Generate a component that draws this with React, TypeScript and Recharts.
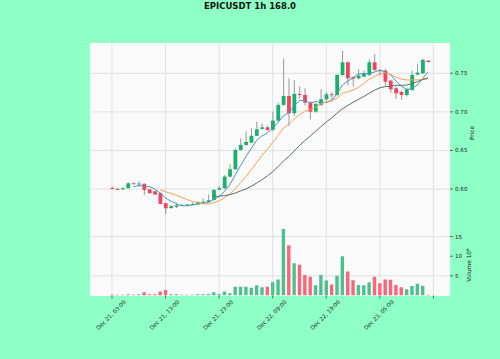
import { ComposedChart, Bar, Line, XAxis, YAxis, CartesianGrid, Cell } from "recharts";

// hourly candles, Dec 21 03:00 -> Dec 23 14:00
const opens = [
  0.6015, 0.6003, 0.5998, 0.6012, 0.6075, 0.6066, 0.6068, 0.5995, 0.5972, 0.5946,
  0.5817, 0.5755, 0.577, 0.5785, 0.579, 0.5795, 0.5808, 0.582, 0.5835, 0.5859,
  0.5992, 0.6011, 0.6161, 0.6257, 0.6507, 0.6572, 0.6601, 0.669, 0.678, 0.68,
  0.6768, 0.6887, 0.709, 0.7206, 0.6982, 0.7232, 0.7219, 0.712, 0.7003, 0.709,
  0.7163, 0.7228, 0.7219, 0.7478, 0.7642, 0.745, 0.7435, 0.7456, 0.7478, 0.7642,
  0.7543, 0.7534, 0.7404, 0.7306, 0.7258, 0.7219, 0.7284, 0.7482, 0.75, 0.7663,
];
const highs = [
  0.6035, 0.6015, 0.602, 0.609, 0.6085, 0.61, 0.6075, 0.6005, 0.598, 0.5955,
  0.582, 0.579, 0.5815, 0.581, 0.581, 0.5825, 0.5845, 0.588, 0.593, 0.6,
  0.604, 0.618, 0.632, 0.6525, 0.6658, 0.675, 0.6788, 0.6873, 0.685, 0.682,
  0.7003, 0.712, 0.7694, 0.7435, 0.7413, 0.733, 0.7305, 0.7135, 0.712, 0.7293,
  0.7255, 0.7255, 0.749, 0.7793, 0.7655, 0.746, 0.7555, 0.7535, 0.768, 0.775,
  0.7555, 0.7555, 0.7415, 0.733, 0.7275, 0.731, 0.7535, 0.7623, 0.769, 0.7672,
];
const lows = [
  0.5995, 0.5985, 0.599, 0.6005, 0.606, 0.6035, 0.5924, 0.594, 0.5925, 0.58,
  0.5674, 0.5745, 0.5755, 0.578, 0.5785, 0.579, 0.58, 0.5815, 0.583, 0.5855,
  0.5985, 0.6, 0.6155, 0.625, 0.65, 0.656, 0.6595, 0.6685, 0.677, 0.675,
  0.675, 0.687, 0.7075, 0.6818, 0.6945, 0.717, 0.708, 0.6905, 0.699, 0.7075,
  0.7145, 0.7135, 0.7205, 0.7465, 0.734, 0.7327, 0.742, 0.745, 0.7465, 0.753,
  0.7475, 0.7335, 0.7245, 0.7168, 0.716, 0.72, 0.727, 0.7475, 0.749, 0.764,
];
const closes = [
  0.6005, 0.5995, 0.6012, 0.6075, 0.6068, 0.6072, 0.599, 0.5948, 0.593, 0.5808,
  0.5752, 0.578, 0.579, 0.5795, 0.58, 0.5808, 0.5833, 0.5835, 0.5855, 0.5989,
  0.6011, 0.6161, 0.6257, 0.6507, 0.6572, 0.661, 0.669, 0.6775, 0.68, 0.6766,
  0.6887, 0.709, 0.7206, 0.6982, 0.7232, 0.7218, 0.712, 0.7003, 0.7103, 0.7163,
  0.7228, 0.7215, 0.7478, 0.7642, 0.7435, 0.743, 0.747, 0.75, 0.7642, 0.7543,
  0.7535, 0.7391, 0.7293, 0.7241, 0.7219, 0.7293, 0.7478, 0.7508, 0.7672, 0.7646,
];
// volume in millions
const volumes = [
  0.2, 0.2, 0.2, 0.3, 0.2, 0.3, 0.8, 0.3, 0.3, 1.0,
  1.4, 0.3, 0.3, 0.2, 0.2, 0.2, 0.3, 0.3, 0.4, 0.8,
  0.4, 1.0, 0.6, 2.2, 2.2, 2.2, 2.0, 2.6, 2.1, 2.2,
  3.4, 4.1, 16.9, 12.8, 8.2, 7.8, 5.2, 4.8, 2.6, 5.2,
  3.8, 2.8, 5.0, 10.0, 6.1, 3.9, 2.7, 2.6, 3.4, 4.8,
  3.1, 4.1, 4.0, 2.7, 2.1, 1.6, 2.4, 3.0, 2.5, 0.2,
];

const tickIdx = [0, 10, 20, 30, 40, 50, 60];
const tickLabels = [
  "Dec 21, 03:00",
  "Dec 21, 13:00",
  "Dec 21, 23:00",
  "Dec 22, 09:00",
  "Dec 22, 19:00",
  "Dec 23, 05:00",
  "",
];
const priceTicks = [0.6, 0.65, 0.7, 0.75];
const volumeTicks = [5, 10, 15];
const mavPeriods = [5, 10, 20];
const mavColors = ["#4a93c6", "#f3a256", "#56706a"];

const UP = "#17b06c";
const DOWN = "#f3425a";
const VOL_UP = "#4cc08f";
const VOL_DOWN = "#f7667a";
const FONT = "DejaVu Sans";

// simple moving average of the closes (what mav= draws)
const sma = (n: number, i: number) =>
  i < n - 1 ? null : closes.slice(i - n + 1, i + 1).reduce((a, b) => a + b, 0) / n;

const data = closes.map((c, i) => ({
  idx: i,
  open: opens[i],
  high: highs[i],
  low: lows[i],
  close: c,
  range: [lows[i], highs[i]],
  vol: volumes[i],
  ma0: sma(mavPeriods[0], i),
  ma1: sma(mavPeriods[1], i),
  ma2: sma(mavPeriods[2], i),
}));

const Candle = (props: any) => {
  const { x, y, width, height, payload } = props;
  const top = Math.min(y, y + height);
  const h = Math.abs(height);
  const { open, close, high, low } = payload;
  const span = high - low || 1;
  const py = (v: number) => top + ((high - v) / span) * h;
  const cx = x + width / 2;
  const up = close >= open;
  const bTop = py(Math.max(open, close));
  const bBot = py(Math.min(open, close));
  return (
    <g>
      <line x1={cx} x2={cx} y1={top} y2={top + h} stroke="#808080" strokeWidth={0.8} />
      <rect x={x} y={bTop} width={width} height={Math.max(bBot - bTop, 0.9)} fill={up ? UP : DOWN} />
    </g>
  );
};

const XTick = ({ x, y, payload }: any) => {
  const label = tickLabels[tickIdx.indexOf(payload.value)];
  if (!label) return null;
  const cx = x - 1;
  const cy = y + 14.5;
  return (
    <text
      x={cx}
      y={cy}
      transform={`rotate(-45 ${cx} ${cy})`}
      textAnchor="middle"
      dominantBaseline="central"
      fontSize={5.6}
      fill="#222"
      fontFamily={FONT}
    >
      {label}
    </text>
  );
};

const xDomain = [-4.1, 63.1];
const tickStyle = { fontSize: 5.6, fill: "#222", fontFamily: FONT };

export default function App() {
  return (
    <div style={{ position: "absolute", left: 0, top: 0, width: 500, height: 359, background: "#8effc5", overflow: "hidden" }}>
      <div
        style={{
          position: "absolute",
          top: 1,
          width: 500,
          textAlign: "center",
          fontFamily: FONT,
          fontWeight: "bold",
          fontSize: 8.5,
          color: "#111",
        }}
      >
        EPICUSDT 1h 168.0
      </div>
      <div style={{ position: "absolute", left: 90, top: 43, width: 360, height: 252.5, background: "#fafafa" }} />

      <div style={{ position: "absolute", left: 0, top: 0 }}>
        <ComposedChart width={500} height={230} data={data} margin={{ top: 43, right: 0, bottom: 6, left: 90 }}>
          <CartesianGrid stroke="#dadada" strokeWidth={0.8} horizontalValues={priceTicks} verticalValues={tickIdx} />
          <XAxis type="number" dataKey="idx" domain={xDomain} ticks={tickIdx} allowDataOverflow hide />
          <YAxis
            orientation="right"
            width={50}
            type="number"
            domain={[0.5548, 0.7892]}
            ticks={priceTicks}
            allowDataOverflow
            axisLine={false}
            tickSize={3}
            tickMargin={2}
            tickLine={{ stroke: "#333", strokeWidth: 0.7 }}
            tick={tickStyle}
            tickFormatter={(v: number) => v.toFixed(2)}
            label={{
              content: () => (
                <text x={472} y={133} transform="rotate(-90 472 133)" textAnchor="middle" dominantBaseline="central" fontSize={5.8} fill="#222" fontFamily={FONT}>
                  Price
                </text>
              ),
            }}
          />
          <Bar dataKey="range" barSize={3.8} shape={Candle} isAnimationActive={false} />
          {mavColors.map((c, k) => (
            <Line
              key={k}
              dataKey={`ma${k}`}
              type="linear"
              stroke={c}
              strokeWidth={1}
              dot={false}
              activeDot={false}
              isAnimationActive={false}
            />
          ))}
        </ComposedChart>
      </div>

      <div style={{ position: "absolute", left: 0, top: 0 }}>
        <ComposedChart width={500} height={359} data={data} margin={{ top: 224, right: 0, bottom: 0, left: 90 }}>
          <CartesianGrid stroke="#dadada" strokeWidth={0.8} horizontalValues={volumeTicks} verticalValues={tickIdx} />
          <XAxis
            type="number"
            dataKey="idx"
            domain={xDomain}
            ticks={tickIdx}
            allowDataOverflow
            height={63.5}
            axisLine={false}
            tickSize={3}
            tickMargin={2}
            tickLine={{ stroke: "#333", strokeWidth: 0.7 }}
            tick={<XTick />}
          />
          <YAxis
            orientation="right"
            width={50}
            type="number"
            domain={[0, 18.2]}
            ticks={volumeTicks}
            allowDataOverflow
            axisLine={false}
            tickSize={3}
            tickMargin={2}
            tickLine={{ stroke: "#333", strokeWidth: 0.7 }}
            tick={tickStyle}
            label={{
              content: () => (
                <text x={469} y={265} transform="rotate(-90 469 265)" textAnchor="middle" dominantBaseline="central" fontSize={5.8} fill="#222" fontFamily={FONT}>
                  Volume  10
                  <tspan fontSize={4.2} dy={-2.5}>6</tspan>
                </text>
              ),
            }}
          />
          <Bar dataKey="vol" barSize={3.4} isAnimationActive={false}>
            {data.map((d, i) => (
              <Cell key={i} fill={d.close >= d.open ? VOL_UP : VOL_DOWN} />
            ))}
          </Bar>
        </ComposedChart>
      </div>
    </div>
  );
}
